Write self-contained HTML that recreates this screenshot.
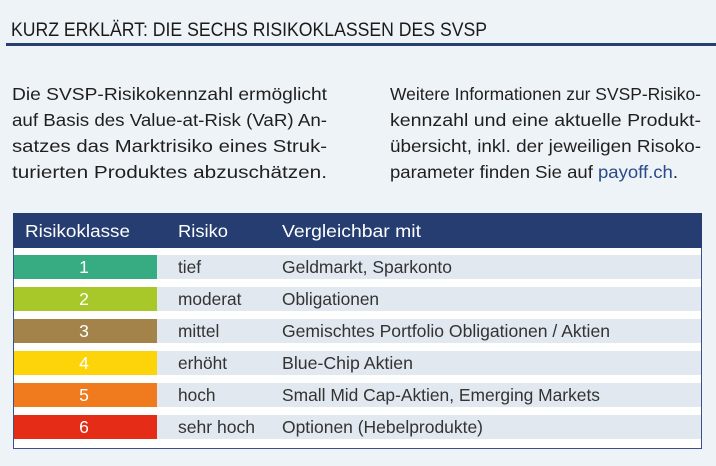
<!DOCTYPE html>
<html><head><meta charset="utf-8"><style>
html,body{margin:0;padding:0;background:#eef3f7;}
svg{display:block;}
text{font-family:"Liberation Sans",sans-serif;}
</style></head><body>
<svg width="716" height="466" viewBox="0 0 716 466" xmlns="http://www.w3.org/2000/svg">
<rect width="716" height="466" fill="#eef3f7"/>
<text x="11" y="36" font-size="19" fill="#1a1a1a" textLength="476" lengthAdjust="spacingAndGlyphs">KURZ ERKLÄRT: DIE SECHS RISIKOKLASSEN DES SVSP</text>
<rect x="6" y="43" width="710" height="3" fill="#253f72"/>
<g font-size="17.5" fill="#1f1f1f">
<text x="12" y="100" textLength="315" lengthAdjust="spacingAndGlyphs">Die SVSP-Risikokennzahl ermöglicht</text>
<text x="12" y="126" textLength="315" lengthAdjust="spacingAndGlyphs">auf Basis des Value-at-Risk (VaR) An-</text>
<text x="12" y="152" textLength="315" lengthAdjust="spacingAndGlyphs">satzes das Marktrisiko eines Struk-</text>
<text x="12" y="178" textLength="315" lengthAdjust="spacingAndGlyphs">turierten Produktes abzuschätzen.</text>
<text x="390" y="100" textLength="311" lengthAdjust="spacingAndGlyphs">Weitere Informationen zur SVSP-Risiko-</text>
<text x="390" y="126" textLength="311" lengthAdjust="spacingAndGlyphs">kennzahl und eine aktuelle Produkt-</text>
<text x="390" y="152" textLength="311" lengthAdjust="spacingAndGlyphs">übersicht, inkl. der jeweiligen Risoko-</text>
<text x="390" y="178" textLength="288" lengthAdjust="spacingAndGlyphs">parameter finden Sie auf <tspan fill="#2a4a8a">payoff.ch</tspan>.</text>
</g>
<rect x="13.5" y="213.5" width="688" height="235" fill="#ffffff" stroke="#3a5288" stroke-width="1"/>
<rect x="13" y="213" width="689" height="35" fill="#253d71"/>
<g font-size="17.5" fill="#ffffff">
<text x="25" y="237" textLength="105" lengthAdjust="spacingAndGlyphs">Risikoklasse</text>
<text x="178" y="237" textLength="50" lengthAdjust="spacingAndGlyphs">Risiko</text>
<text x="282" y="237" textLength="139" lengthAdjust="spacingAndGlyphs">Vergleichbar mit</text>
</g>
<g>
<rect x="14" y="255" width="687" height="24" fill="#e1e8ef"/>
<rect x="14" y="287" width="687" height="24" fill="#e1e8ef"/>
<rect x="14" y="319" width="687" height="24" fill="#e1e8ef"/>
<rect x="14" y="351" width="687" height="24" fill="#e1e8ef"/>
<rect x="14" y="383" width="687" height="24" fill="#e1e8ef"/>
<rect x="14" y="415" width="687" height="24" fill="#e1e8ef"/>
<rect x="14" y="255" width="143" height="24" fill="#37ab82"/>
<rect x="14" y="287" width="143" height="24" fill="#a8c82a"/>
<rect x="14" y="319" width="143" height="24" fill="#a4834b"/>
<rect x="14" y="351" width="143" height="24" fill="#fdd40a"/>
<rect x="14" y="383" width="143" height="24" fill="#ef7b1e"/>
<rect x="14" y="415" width="143" height="24" fill="#e42c16"/>
</g>
<g font-size="17.5" fill="#ffffff" text-anchor="middle">
<text x="84" y="273">1</text>
<text x="84" y="305">2</text>
<text x="84" y="337">3</text>
<text x="84" y="369">4</text>
<text x="84" y="401">5</text>
<text x="84" y="433">6</text>
</g>
<g font-size="17.3" fill="#333333">
<text x="178" y="273">tief</text>
<text x="178" y="305">moderat</text>
<text x="178" y="337">mittel</text>
<text x="178" y="369">erhöht</text>
<text x="178" y="401">hoch</text>
<text x="178" y="433" textLength="77" lengthAdjust="spacingAndGlyphs">sehr hoch</text>
<text x="282" y="273" textLength="170" lengthAdjust="spacingAndGlyphs">Geldmarkt, Sparkonto</text>
<text x="282" y="305">Obligationen</text>
<text x="282" y="337" textLength="328" lengthAdjust="spacingAndGlyphs">Gemischtes Portfolio Obligationen / Aktien</text>
<text x="282" y="369" textLength="131" lengthAdjust="spacingAndGlyphs">Blue-Chip Aktien</text>
<text x="282" y="401" textLength="318" lengthAdjust="spacingAndGlyphs">Small Mid Cap-Aktien, Emerging Markets</text>
<text x="282" y="433" textLength="201" lengthAdjust="spacingAndGlyphs">Optionen (Hebelprodukte)</text>
</g>
</svg>
</body></html>
